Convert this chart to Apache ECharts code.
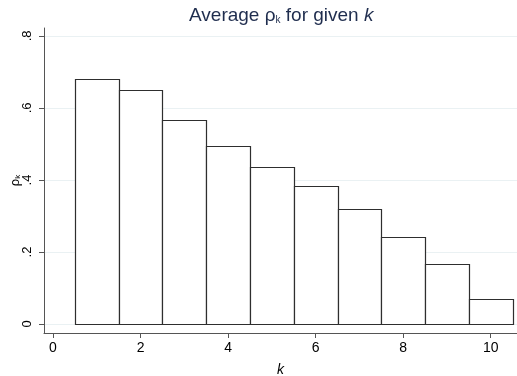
<!DOCTYPE html>
<html>
<head>
<meta charset="utf-8">
<script src="https://cdn.jsdelivr.net/npm/echarts@6/dist/echarts.min.js"></script>
<style>
  html, body { margin: 0; padding: 0; background: #fff; }
  #chart { width: 517px; height: 376px; }
</style>
</head>
<body>
<div id="chart"></div>
<script>
// Average rho_k by k
const kValues = [1, 2, 3, 4, 5, 6, 7, 8, 9, 10];
const rhoValues = [0.681, 0.649, 0.566, 0.495, 0.437, 0.383, 0.318, 0.242, 0.166, 0.070];
const xTicks = [0, 2, 4, 6, 8, 10];
const yTicks = [0, 0.2, 0.4, 0.6, 0.8];
const yTickLabels = ['0', '.2', '.4', '.6', '.8'];

const FONT = '"Liberation Sans", Arial, sans-serif';
const X_MIN = -0.205, X_MAX = 10.6;
const chart = echarts.init(document.getElementById('chart'), null, { renderer: 'canvas' });

const barData = kValues.map((k, i) => [k, rhoValues[i]]);

chart.setOption({
  animation: false,
  backgroundColor: '#fff',
  title: {
    text: '{n|Average ρ}{s|k}{n| for given }{i|k}',
    left: 189,
    top: 6,
    padding: 0,
    textStyle: {
      rich: {
        n: { fontFamily: FONT, fontSize: 19, fontWeight: 'normal', color: '#1f2d4e' },
        s: { fontFamily: FONT, fontSize: 10, fontWeight: 'normal', color: '#1f2d4e', verticalAlign: 'bottom', padding: [8, 0, 0, 0] },
        i: { fontFamily: FONT, fontSize: 19, fontWeight: 'normal', color: '#1f2d4e', fontStyle: 'italic' }
      }
    }
  },
  grid: { left: 44, right: 0, top: 28, bottom: 43, outerBoundsMode: 'none', containLabel: false },
  xAxis: {
    type: 'value',
    min: X_MIN,
    max: X_MAX,
    name: 'k',
    nameLocation: 'middle',
    nameGap: 30,
    nameTextStyle: { fontFamily: FONT, fontSize: 14, fontStyle: 'italic', color: '#000' },
    axisLine: { show: true, onZero: false, lineStyle: { color: '#555', width: 1 } },
    axisTick: { show: true, length: 5, customValues: xTicks, lineStyle: { color: '#555' } },
    axisLabel: { customValues: xTicks, fontFamily: FONT, fontSize: 14, color: '#000', margin: 8 },
    splitLine: { show: false }
  },
  yAxis: {
    type: 'value',
    min: -0.025,
    max: 0.822,
    name: '{r|ρ}{s|k}',
    nameLocation: 'middle',
    nameRotate: 90,
    nameGap: 22,
    nameMoveOverlap: false,
    nameTextStyle: {
      rich: {
        r: { fontFamily: FONT, fontSize: 13, color: '#000' },
        s: { fontFamily: FONT, fontSize: 8, color: '#000', verticalAlign: 'bottom', padding: [5, 0, 0, 0] }
      }
    },
    axisLine: { show: true, onZero: false, lineStyle: { color: '#555', width: 1 } },
    axisTick: { show: true, length: 5, customValues: yTicks, lineStyle: { color: '#555' } },
    axisLabel: {
      customValues: yTicks,
      rotate: 90,
      fontFamily: FONT,
      fontSize: 13,
      color: '#000',
      margin: 10,
      formatter: (v) => {
        const idx = yTicks.findIndex(t => Math.abs(t - v) < 1e-9);
        return idx >= 0 ? yTickLabels[idx] : '';
      }
    },
    splitLine: { show: false }
  },
  series: [
    {
      // horizontal grid lines at the y ticks
      type: 'custom',
      silent: true,
      z: 1,
      data: yTicks.map(t => [t]),
      encode: { y: 0 },
      renderItem(params, api) {
        const y = api.value(0);
        const a = api.coord([X_MIN, y]);
        const b = api.coord([X_MAX, y]);
        const yy = Math.round(a[1]) + 0.5;
        return {
          type: 'line',
          shape: { x1: a[0] + 1, y1: yy, x2: b[0], y2: yy },
          style: { stroke: '#eaf1f3', lineWidth: 1.2 }
        };
      }
    },
    {
      // histogram-style bars, width one unit of k
      type: 'custom',
      z: 2,
      data: barData,
      encode: { x: 0, y: 1 },
      renderItem(params, api) {
        const k = api.value(0);
        const v = api.value(1);
        const p1 = api.coord([k - 0.5, v]);
        const p2 = api.coord([k + 0.5, 0]);
        const x1 = Math.round(p1[0]) + 0.5;
        const x2 = Math.round(p2[0]) + 0.5;
        const y1 = Math.round(p1[1]) + 0.5;
        const y2 = Math.round(p2[1]) + 0.5;
        return {
          type: 'rect',
          shape: { x: x1, y: y1, width: x2 - x1, height: y2 - y1 },
          style: { fill: '#fff', stroke: '#2e2e2e', lineWidth: 1.2 }
        };
      }
    }
  ]
});
</script>
</body>
</html>
